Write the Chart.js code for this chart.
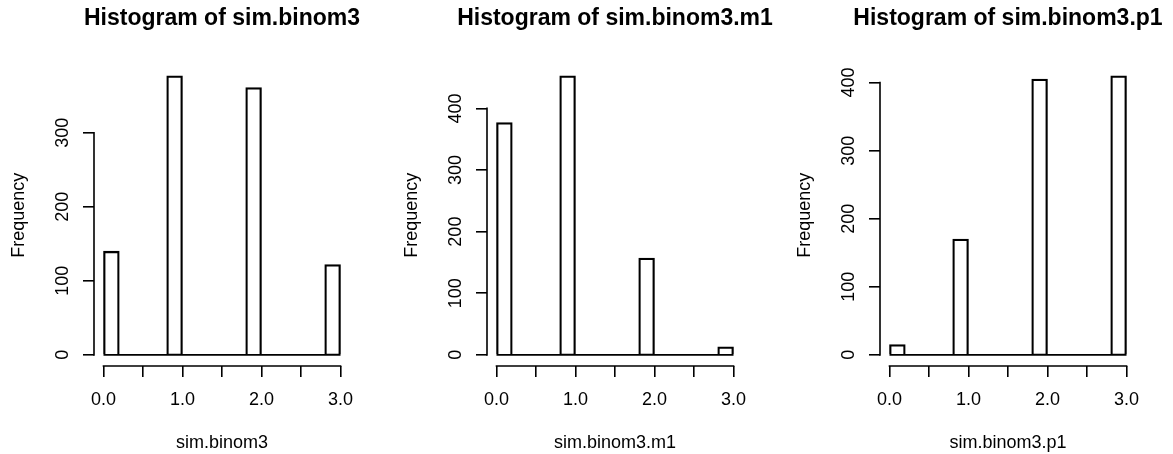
<!DOCTYPE html>
<html>
<head>
<meta charset="utf-8">
<title>Histograms of sim.binom3</title>
<script src="https://cdn.jsdelivr.net/npm/chart.js@4.4.1/dist/chart.umd.min.js"></script>
<style>
    html, body { margin: 0; padding: 0; background: #fff; overflow: hidden; }
    body { width: 1173px; height: 454px; position: relative; }
    /* each panel is wider than its slot so the title centres over the plot */
    .panel { position: absolute; top: 0; width: 444px; height: 454px; }
</style>
</head>
<body>

<div class="panel" style="left:0px"><canvas id="histBinom3"></canvas></div>
<div class="panel" style="left:393px"><canvas id="histBinom3m1"></canvas></div>
<div class="panel" style="left:786px"><canvas id="histBinom3p1"></canvas></div>

<script>
// bin edges, shared by all three histograms
const breaks = [0.0, 0.2, 0.4, 0.6, 0.8, 1.0, 1.2, 1.4, 1.6, 1.8, 2.0, 2.2, 2.4, 2.6, 2.8, 3.0];

// counts per bin
const simBinom3   = [140, 0, 0, 0, 377, 0, 0, 0, 0, 361, 0, 0, 0, 0, 122];
const simBinom3m1 = [377, 0, 0, 0, 453, 0, 0, 0, 0, 157, 0, 0, 0, 0, 13];
const simBinom3p1 = [15, 0, 0, 0, 170, 0, 0, 0, 0, 405, 0, 0, 0, 0, 410];

// axis ticks
const xTicks = [0, 0.5, 1, 1.5, 2, 2.5, 3];
const xTickLabels = [0, 1, 2, 3];
const yTicks3 = [0, 100, 200, 300];
const yTicks400 = [0, 100, 200, 300, 400];

Chart.defaults.font.family = "'Liberation Sans', Arial, Helvetica, sans-serif";
Chart.defaults.color = '#000';

const LINE = 1.6;

// R-style axis lines: only from the first to the last tick
const axisLines = {

    id: 'axisLines',

    afterDraw(chart) {

        const { ctx, chartArea, scales } = chart;
        const xs = scales.x;
        const ys = scales.y;
        const xt = xs.ticks;
        const yt = ys.ticks;

        ctx.save();
        ctx.strokeStyle = '#000';
        ctx.lineWidth = LINE;
        ctx.lineCap = 'square';
        ctx.beginPath();
        ctx.moveTo(xs.getPixelForValue(xt[0].value), chartArea.bottom);
        ctx.lineTo(xs.getPixelForValue(xt[xt.length - 1].value), chartArea.bottom);
        ctx.moveTo(chartArea.left, ys.getPixelForValue(yt[0].value));
        ctx.lineTo(chartArea.left, ys.getPixelForValue(yt[yt.length - 1].value));
        ctx.stroke();
        ctx.restore();

    }

};

const tickGrid = {
    drawOnChartArea: false,
    drawTicks: true,
    offset: false,
    tickLength: 11,
    tickWidth: LINE,
    tickColor: '#000',
    lineWidth: LINE,
    color: '#000'
};

function drawHistogram(canvasId, title, xName, counts, yTicks) {

    const bins = counts.map((c, i) => ({ x: (breaks[i] + breaks[i + 1]) / 2, y: c }));
    const baseline = breaks.map(b => ({ x: b, y: 0 }));

    // plot limits padded by 4% like R does
    const lo = breaks[0];
    const hi = breaks[breaks.length - 1];
    const top = Math.max(...counts);

    return new Chart(document.getElementById(canvasId), {

        type: 'bar',

        data: {

            datasets: [
                {
                    type: 'bar',
                    data: bins,
                    backgroundColor: 'rgba(255,255,255,0)',
                    borderColor: '#000',
                    borderWidth: LINE,
                    borderSkipped: 'start',
                    barPercentage: 1,
                    categoryPercentage: 1
                },
                {
                    // empty bins collapse onto the zero line
                    type: 'line',
                    data: baseline,
                    borderColor: '#000',
                    borderWidth: LINE,
                    pointRadius: 0
                }
            ]

        },

        options: {

            responsive: true,
            maintainAspectRatio: false,
            animation: false,
            devicePixelRatio: 1,

            layout: {
                padding: 0
            },

            plugins: {

                legend: { display: false },
                tooltip: { enabled: false },

                title: {
                    display: true,
                    text: title,
                    color: '#000',
                    font: { size: 23, weight: 'bold' },
                    padding: { top: 5, bottom: 32 }
                }

            },

            scales: {

                x: {
                    type: 'linear',
                    min: lo - 0.04 * (hi - lo),
                    max: hi + 0.04 * (hi - lo),
                    offset: false,
                    grid: tickGrid,
                    border: { display: false },
                    afterBuildTicks: scale => {
                        scale.ticks = xTicks.map(v => ({ value: v }));
                    },
                    afterFit: scale => {
                        scale.height = 88;
                    },
                    ticks: {
                        autoSkip: false,
                        minRotation: 0,
                        maxRotation: 0,
                        padding: 12,
                        font: { size: 18 },
                        callback: v => xTickLabels.includes(v) ? v.toFixed(1) : ''
                    },
                    title: {
                        display: true,
                        text: xName,
                        font: { size: 18 },
                        padding: { top: 0, bottom: 0 }
                    }
                },

                y: {
                    type: 'linear',
                    min: -0.04 * top,
                    max: 1.04 * top,
                    grid: tickGrid,
                    border: { display: false },
                    afterBuildTicks: scale => {
                        scale.ticks = yTicks.map(v => ({ value: v }));
                    },
                    afterFit: scale => {
                        scale.width = 94;
                    },
                    ticks: {
                        minRotation: 90,
                        maxRotation: 90,
                        crossAlign: 'center',
                        padding: 5,
                        font: { size: 18 }
                    },
                    title: {
                        display: true,
                        text: 'Frequency',
                        font: { size: 18 },
                        padding: { top: 8, bottom: 0 }
                    }
                },

                // blank right margin, same width as the left axis
                margin: {
                    type: 'linear',
                    position: 'right',
                    grid: { display: false },
                    border: { display: false },
                    ticks: { display: false },
                    afterFit: scale => {
                        scale.width = 94;
                    }
                }

            }

        },

        plugins: [axisLines]

    });

}

document.addEventListener('DOMContentLoaded', () => {

    drawHistogram('histBinom3', 'Histogram of sim.binom3', 'sim.binom3', simBinom3, yTicks3);
    drawHistogram('histBinom3m1', 'Histogram of sim.binom3.m1', 'sim.binom3.m1', simBinom3m1, yTicks400);
    drawHistogram('histBinom3p1', 'Histogram of sim.binom3.p1', 'sim.binom3.p1', simBinom3p1, yTicks400);

});
</script>
</body>
</html>
